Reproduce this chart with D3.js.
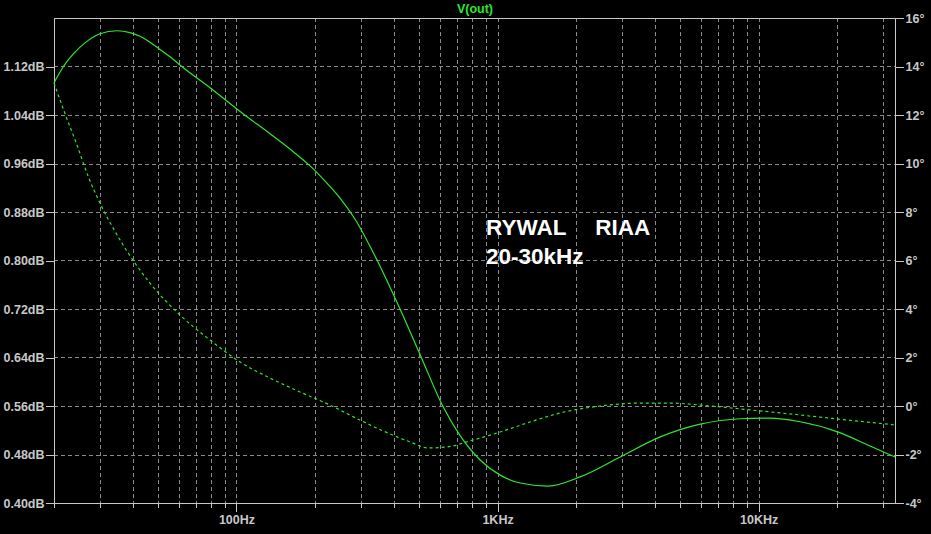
<!DOCTYPE html>
<html>
<head>
<meta charset="utf-8">
<script src="https://cdn.jsdelivr.net/npm/d3@7"></script>
<style>
html,body{margin:0;padding:0;background:#000;}
svg{display:block;}
</style>
</head>
<body>
<svg id="chart" width="931" height="534"></svg>
<script>
// ---- data ----
const title = "V(out)";
const noteLines = ["RYWAL   RIAA", "20-30kHz"];

// frequency (Hz) of sample points, magnitude trace
const magFreq = [20, 21.09, 22.23, 23.86, 26.29, 30.0, 34.86, 39.1, 42.71, 46.66, 50.96, 55.66, 61.71, 79.2, 106, 134.5, 167.7, 191.4, 218.4, 249.3, 284.6, 339.6, 416, 509.6, 613.4, 718.8, 857.6, 1024, 1220, 1562, 2071, 2950, 4200, 5974, 8500, 11070, 14430, 20200, 26740, 33300];
// magnitude in dB (solid trace, left axis)
const magDb = [1.093, 1.111, 1.126, 1.142, 1.159, 1.174, 1.179, 1.176, 1.170, 1.160, 1.148, 1.136, 1.120, 1.085, 1.042, 1.009, 0.977, 0.956, 0.931, 0.903, 0.868, 0.807, 0.727, 0.641, 0.562, 0.511, 0.471, 0.446, 0.433, 0.428, 0.443, 0.476, 0.509, 0.530, 0.539, 0.540, 0.534, 0.517, 0.494, 0.476];

// frequency (Hz) of sample points, phase trace
const phaseFreq = [20, 22.0, 24.5, 27.2, 30.0, 35.8, 46.6, 60.8, 79.2, 103.3, 134.5, 175, 228, 297, 387, 462, 542, 640, 784, 1024, 1332, 1736, 2474, 3526, 4590, 5974, 8500, 14430, 20200, 33300];
// phase in degrees (dashed trace, right axis)
const phaseDeg = [13.32, 12.08, 10.76, 9.40, 8.37, 6.85, 5.07, 3.75, 2.72, 1.81, 1.15, 0.58, 0.04, -0.58, -1.15, -1.48, -1.73, -1.69, -1.44, -1.07, -0.66, -0.29, 0.0, 0.12, 0.12, 0.04, -0.12, -0.37, -0.54, -0.78];

const dbTicks = [1.12, 1.04, 0.96, 0.88, 0.80, 0.72, 0.64, 0.56, 0.48, 0.40];
const dbLabels = ["1.12dB", "1.04dB", "0.96dB", "0.88dB", "0.80dB", "0.72dB", "0.64dB", "0.56dB", "0.48dB", "0.40dB"];
const degTicks = [16, 14, 12, 10, 8, 6, 4, 2, 0, -2, -4];
const degLabels = ["16°", "14°", "12°", "10°", "8°", "6°", "4°", "2°", "0°", "-2°", "-4°"];
const freqMajor = [100, 1000, 10000];
const freqLabels = ["100Hz", "1KHz", "10KHz"];
const freqMinor = [20, 30, 40, 50, 60, 70, 80, 90, 200, 300, 400, 500, 600, 700, 800, 900, 2000, 3000, 4000, 5000, 6000, 7000, 8000, 9000, 20000, 30000];

// ---- layout ----
const L = 54, R = 895, T = 18, B = 503;
const traceColor = "#2ee82e";
const axisColor = "#c8c8c8";
const gridColor = "#8a8a8a";
const font = "'Liberation Sans', Arial, sans-serif";

const svg = d3.select("#chart");
svg.append("rect").attr("width", 931).attr("height", 534).attr("fill", "#000");

const x = d3.scaleLog().domain([20, 33300]).range([L, R]);
const yDb = d3.scaleLinear().domain([0.40, 1.20]).range([B, T]);
const yDeg = d3.scaleLinear().domain([-4, 16]).range([B, T]);

// grid
const grid = svg.append("g").attr("stroke", gridColor).attr("stroke-width", 1).attr("stroke-dasharray", "4,3").attr("shape-rendering", "crispEdges");
grid.selectAll("line.v").data(freqMinor.concat(freqMajor).filter(f => x(f) > L + 1 && x(f) < R - 1))
  .join("line").attr("class", "v")
  .attr("x1", d => Math.round(x(d)) + 0.5).attr("x2", d => Math.round(x(d)) + 0.5)
  .attr("y1", T).attr("y2", B);
grid.selectAll("line.h").data(dbTicks.filter(d => d > 0.401))
  .join("line").attr("class", "h")
  .attr("x1", L).attr("x2", R)
  .attr("y1", d => Math.round(yDb(d)) + 0.5).attr("y2", d => Math.round(yDb(d)) + 0.5);

// frame
svg.append("rect").attr("x", L + 0.5).attr("y", T + 0.5).attr("width", R - L).attr("height", B - T)
  .attr("fill", "none").attr("stroke", axisColor).attr("stroke-width", 1).attr("shape-rendering", "crispEdges");

// axes
const leftAxis = d3.axisLeft(yDb).tickValues(dbTicks).tickFormat((d, i) => dbLabels[i]).tickSize(9).tickPadding(1);
const gl = svg.append("g").attr("transform", `translate(${L + 0.5},0)`).call(leftAxis);
const rightAxis = d3.axisRight(yDeg).tickValues(degTicks).tickFormat((d, i) => degLabels[i]).tickSize(8).tickPadding(2);
const gr = svg.append("g").attr("transform", `translate(${R + 0.5},0)`).call(rightAxis);
const bottomAxis = d3.axisBottom(x).tickValues(freqMajor).tickFormat((d, i) => freqLabels[i]).tickSize(8).tickPadding(4);
const gb = svg.append("g").attr("transform", `translate(0,${B + 0.5})`).call(bottomAxis);
const minorAxis = d3.axisBottom(x).tickValues(freqMinor).tickFormat("").tickSize(4);
const gm = svg.append("g").attr("transform", `translate(0,${B + 0.5})`).call(minorAxis);

[gl, gr, gb, gm].forEach(g => {
  g.select(".domain").remove();
  g.selectAll(".tick line").attr("stroke", axisColor).attr("shape-rendering", "crispEdges");
  g.selectAll(".tick text").attr("fill", axisColor).attr("font-family", font).attr("font-size", 12.5).attr("font-weight", "bold");
});
gb.selectAll(".tick text").attr("dy", "0.71em");

// traces
const magLine = d3.line().x((d, i) => x(magFreq[i])).y(d => yDb(d)).curve(d3.curveMonotoneX);
svg.append("path").datum(magDb).attr("d", magLine)
  .attr("fill", "none").attr("stroke", traceColor).attr("stroke-width", 1.2);

const phaseLine = d3.line().x((d, i) => x(phaseFreq[i])).y(d => yDeg(d)).curve(d3.curveMonotoneX);
svg.append("path").datum(phaseDeg).attr("d", phaseLine)
  .attr("fill", "none").attr("stroke", traceColor).attr("stroke-width", 1.2).attr("stroke-dasharray", "3,3");

// title
svg.append("text").attr("x", 475).attr("y", 13).attr("text-anchor", "middle")
  .attr("fill", traceColor).attr("font-family", font).attr("font-size", 12.5).attr("font-weight", "bold").text(title);

// annotation
svg.append("g").selectAll("text").data(noteLines).join("text")
  .attr("x", 486).attr("y", (d, i) => 235 + i * 29)
  .attr("fill", "#ffffff").attr("font-family", font)
  .attr("font-size", 22.5).attr("font-weight", "bold").attr("word-spacing", 3.5)
  .style("white-space", "pre").text(d => d);
</script>
</body>
</html>
